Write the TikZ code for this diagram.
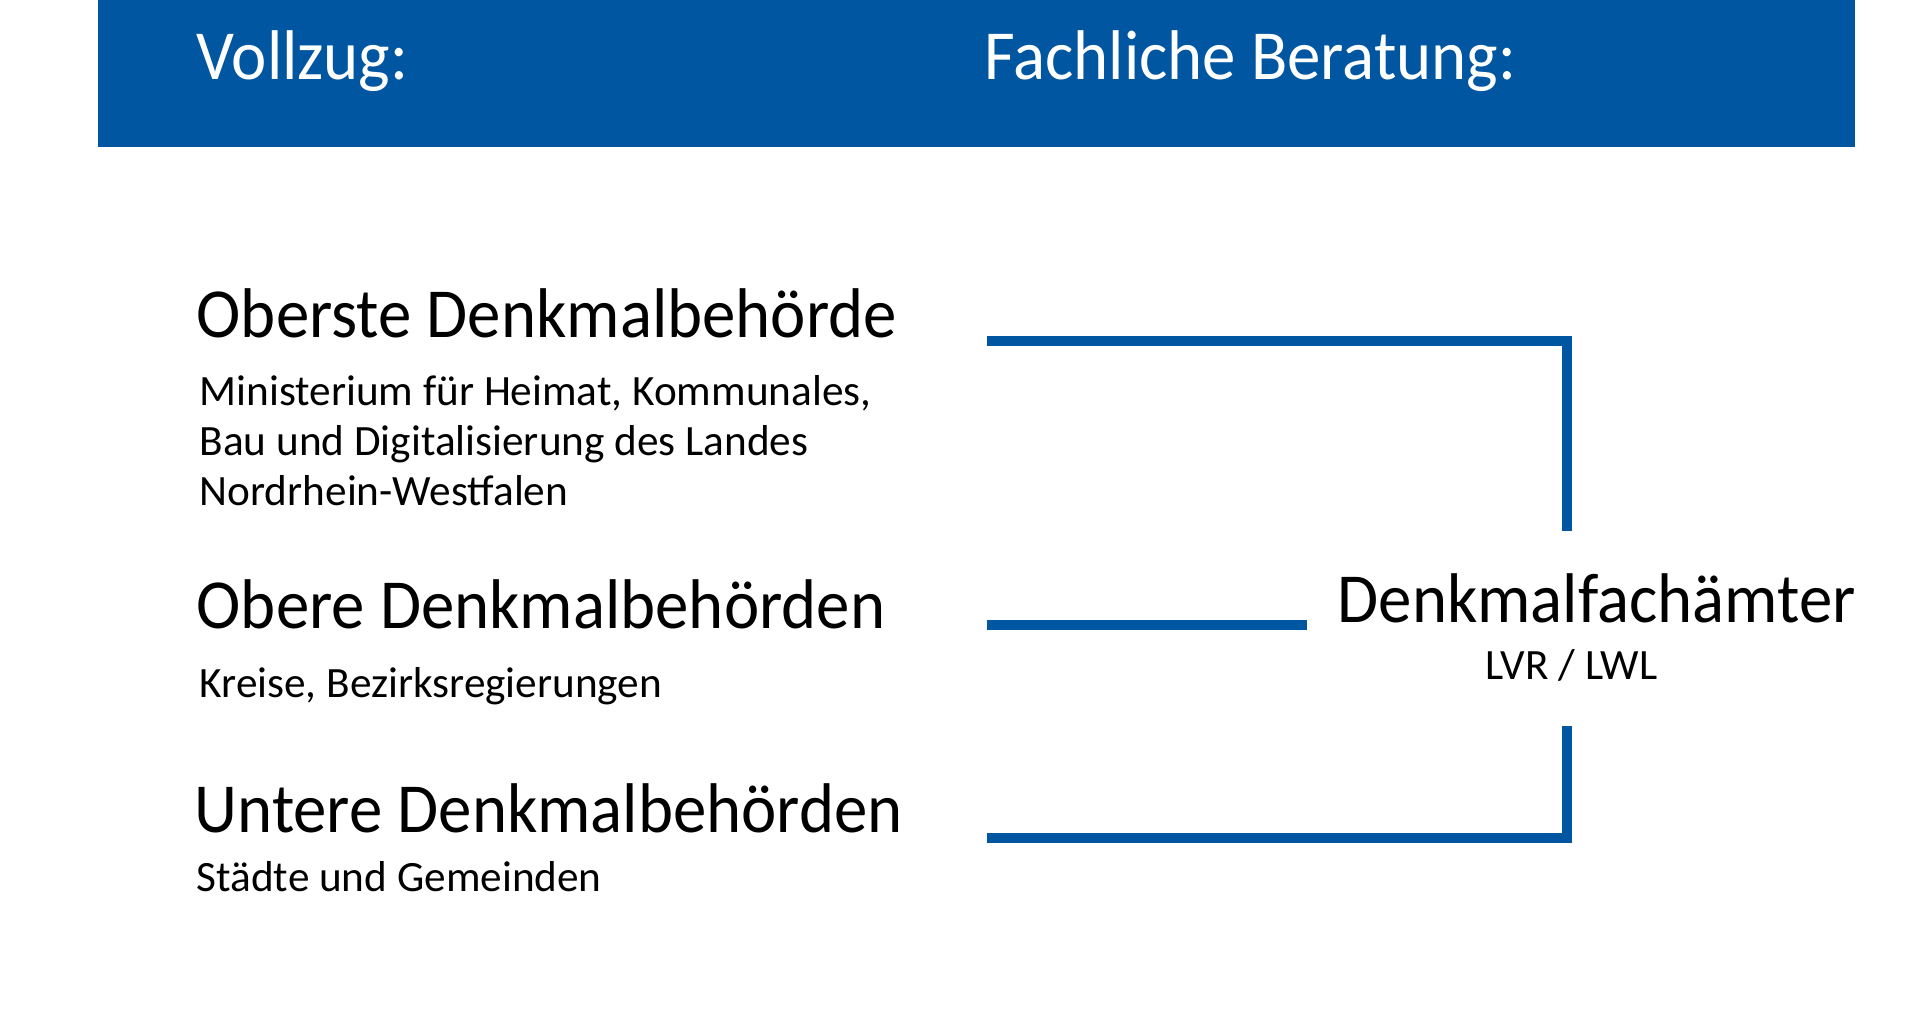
\documentclass[tikz,border=0pt]{standalone}
\usepackage{fontspec}
\setmainfont{Carlito}
\newfontfamily\narrowfont{Carlito}[FakeStretch=0.95]
\definecolor{nrw_blue}{RGB}{0, 86, 160}
\usetikzlibrary{positioning}

\begin{document}
\begin{tikzpicture}[x=0.01cm, y=-0.01cm,
        head/.style={anchor=base west, inner sep=0pt, text=white,
                     font=\narrowfont\fontsize{20}{24}\selectfont},
        ttl/.style={anchor=base west, inner sep=0pt,
                    font=\narrowfont\fontsize{20}{24}\selectfont},
        sub/.style={anchor=base west, inner sep=0pt, align=left,
                    font=\fontsize{12.3}{14.2}\selectfont},
        conn/.style={draw=nrw_blue, line width=2.6pt},
      ]
        \useasboundingbox (0,0) rectangle (1920,1012);

        % Header bar
        \fill[nrw_blue] (98,0) rectangle (1855,147);
        \node[head] (vz) at (196,80) {Vollzug:};
        \node[head] (fb) at (984,80) {Fachliche Beratung:};

        % Vollzug (base = last line)
        \node[ttl] (odb) at (196,337) {Oberste Denkmalbehörde};
        \node[sub] (min) at (199,505)
          {Ministerium für Heimat, Kommunales,\\Bau und Digitalisierung des Landes\\Nordrhein-Westfalen};
        \node[ttl] (obd) at (196,628) {Obere Denkmalbehörden};
        \node[sub] (krs) at (199,697) {Kreise, Bezirksregierungen};
        \node[ttl] (udb) at (194,832) {Untere Denkmalbehörden};
        \node[sub] (std) at (196,891) {Städte und Gemeinden};

        % Fachliche Beratung
        \node[ttl] (dfa) at (1337,622) {Denkmalfachämter};
        \node[sub] (lvr) at (1485,679) {LVR / LWL};

        % Connectors
        \coordinate (t0) at (987,341);
        \coordinate (t1) at (1567,531);
        \coordinate (m0) at (987,625);
        \coordinate (m1) at (1307,625);
        \coordinate (b0) at (987,838);
        \coordinate (b1) at (1567,726);
        \draw[conn] (t0) -| (t1);
        \draw[conn] (m0) -- (m1);
        \draw[conn] (b0) -| (b1);
      \end{tikzpicture}
\end{document}
